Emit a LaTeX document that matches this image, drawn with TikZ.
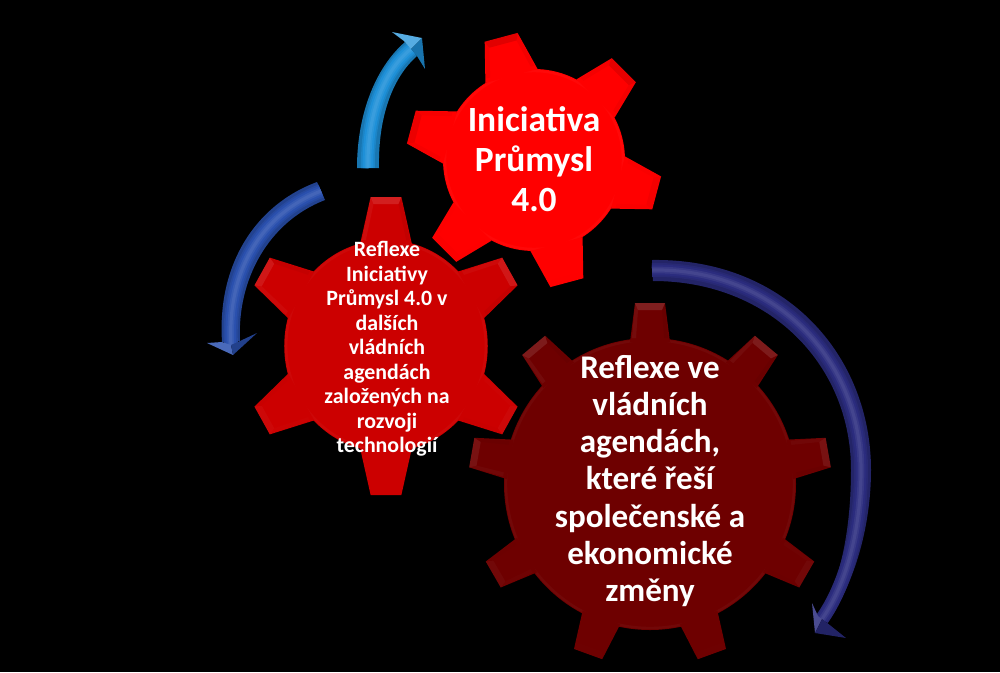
\documentclass[tikz,border=0pt]{standalone}
\usepackage{fontspec}
\setmainfont{Carlito}
\definecolor{gearA}{HTML}{FF0000}
\definecolor{gearB}{HTML}{CC0000}
\definecolor{gearC}{HTML}{6E0000}
\definecolor{blueA}{HTML}{1E90D8}
\definecolor{blueB}{HTML}{2A50AE}
\definecolor{blueC}{HTML}{2B2C7E}
\tikzset{
  geartext/.style={text=white,font=\bfseries,align=center,inner sep=0pt},
}
% cx cy R Rt basehalf tiphalf colour start count
\newcommand{\mygear}[9]{%
  \begin{scope}[shift={(#1,#2)},xscale=\myxs]
    \fill[#7] (0,0) circle[radius=#3];
    \draw[white,opacity=.03,line width=1.8pt] (0,0) circle[radius=#3-2];
    \foreach \k in {1,...,#9}{
      \pgfmathsetmacro{\ang}{#8+(\k-1)*360/#9}
      \pgfmathsetmacro{\lit}{\mybev*(0.5+0.5*sin(\ang))}
      \begin{scope}[rotate=\ang]
        \fill[#7] (#3-4,-#5) -- (#4,-#6) -- (#4,#6) -- (#3-4,#5) -- cycle;
        \fill[\mytip,opacity=\lit] (#4,-#6) -- (#4,#6) -- (#4-7,#6-3) -- (#4-7,-#6+3) -- cycle;
        \fill[\mytip,opacity=\lit*.4] (#3,-#5+2) -- (#4,-#6) -- (#4-7,-#6+3) -- (#3,-#5+6) -- cycle;
        \fill[black,opacity=\lit*.4] (#3,#5-2) -- (#4,#6) -- (#4-7,#6-3) -- (#3,#5-6) -- cycle;
      \end{scope}
    }
  \end{scope}}
% outline, centre line, colour
\newcommand{\mytube}[3]{%
  \fill[#3!82!black] #1;
  \draw[#3!92!black,line width=10.5pt,line cap=butt] #2;
  \draw[#3,line width=8pt,line cap=butt] #2;
  \draw[#3!94!white,line width=5pt,line cap=butt] #2;
  \draw[#3!88!white,line width=2.4pt,line cap=butt] #2;}
\begin{document}
\begin{tikzpicture}[x=.75pt,y=-.75pt]
\useasboundingbox (0,0) rectangle (1000,672);
\fill[black] (0,0) rectangle (1000,672);

% gears
\def\myxs{1}
\def\mytip{white}
\def\mybev{.12}
\mygear{650}{484}{146}{181}{20}{15}{gearC}{90}{9}
\def\mytip{black}
\def\mybev{.12}
\mygear{534}{160}{91}{127}{27}{17}{gearA}{105}{6}
\def\myxs{.96}
\def\mytip{white}
\def\mybev{.12}
\mygear{386}{346}{106}{149}{27}{16}{gearB}{90}{6}

% upper arrow
\coordinate (a1s) at (368,168);
\coordinate (a1e) at (411,49);
\coordinate (a1t) at (422,38);
\coordinate (a1l) at (392,32);
\coordinate (a1r) at (425,69);
\mytube{(357,168) .. controls (357,115) and (375,68) .. (405,42) -- (417,56) .. controls (392,78) and (378,118) .. (379,168) -- cycle}{(a1s) .. controls (367,118) and (382,72) .. (a1e)}{blueA}
\fill[blueA!75!white] (a1t) -- (a1l) -- (404,41) -- (a1e) -- cycle;
\fill[blueA!80!black] (a1t) -- (a1r) -- (417,56) -- (a1e) -- cycle;

% left arrow
\coordinate (a2s) at (321,191);
\coordinate (a2e) at (231,345);
\coordinate (a2t) at (233,355);
\coordinate (a2l) at (207,343);
\coordinate (a2r) at (257,333);
\mytube{(317,182) .. controls (255,205) and (217,265) .. (222,342) -- (240,341) .. controls (237,280) and (268,222) .. (325,200) -- cycle}{(a2s) .. controls (262,214) and (227,270) .. (a2e)}{blueB}
\fill[blueB!85!white] (a2t) -- (a2l) -- (222,342) -- (a2e) -- cycle;
\fill[blueB!80!black] (a2t) -- (a2r) -- (240,341) -- (a2e) -- cycle;

% right arrow
\coordinate (a3s) at (652,270);
\coordinate (a3m) at (861,470);
\coordinate (a3e) at (822,619);
\coordinate (a3t) at (815,633);
\coordinate (a3l) at (812,603);
\coordinate (a3r) at (846,638);
\mytube{(652,260) .. controls (785,258) and (871,355) .. (871,470) .. controls (871,530) and (852,590) .. (826,622) -- (818,616) .. controls (840,585) and (851,530) .. (851,470) .. controls (851,365) and (770,281) .. (653,281) -- cycle}{(a3s) .. controls (775,268) and (861,360) .. (a3m) .. controls (861,530) and (846,585) .. (a3e)}{blueC}
\fill[blueC!85!white] (a3t) -- (a3l) -- (818,616) -- (a3e) -- cycle;
\fill[blueC!80!black] (a3t) -- (a3r) -- (826,622) -- (a3e) -- cycle;

% texts
\node[geartext,font=\bfseries\fontsize{26.6}{30}\selectfont] (t1) at (534,159) {Iniciativa\\Průmysl\\4.0};
\node[geartext,font=\bfseries\fontsize{16.4}{18.4}\selectfont] (t2) at (387,349) {Reflexe\\Iniciativy\\Průmysl 4.0 v\\dalších\\vládních\\agendách\\založených na\\rozvoji\\technologií};
\node[geartext,font=\bfseries\fontsize{24.8}{27.8}\selectfont] (t3) at (650,481) {Reflexe ve\\vládních\\agendách,\\které řeší\\společenské a\\ekonomické\\změny};
\end{tikzpicture}
\end{document}
